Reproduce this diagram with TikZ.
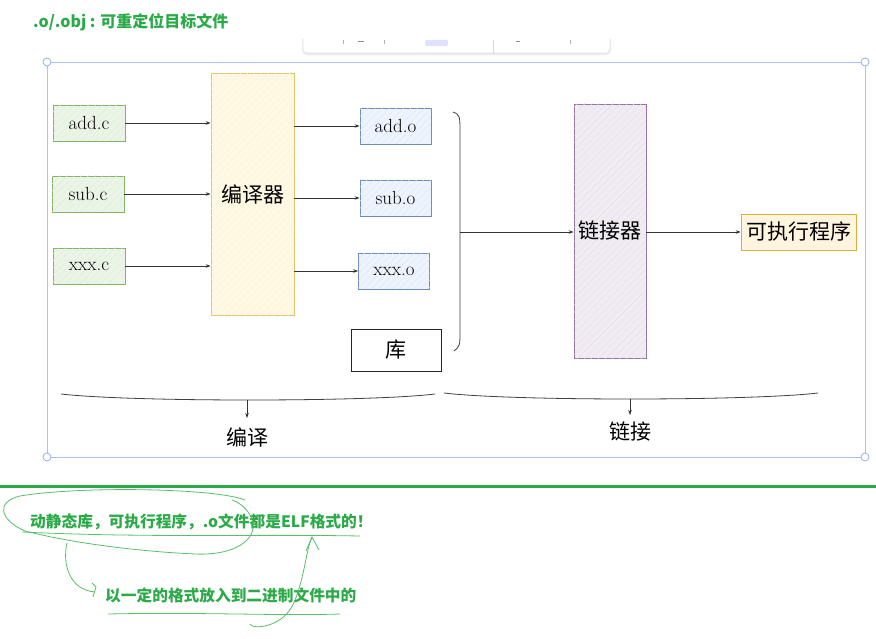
\documentclass[tikz,border=0pt]{standalone}
\usepackage{fontspec}
\newfontfamily\cjk{Noto Sans CJK SC}
\usetikzlibrary{arrows.meta,patterns.meta}
\definecolor{gbd}{HTML}{82B366}\definecolor{gfl}{HTML}{EAF4E7}
\definecolor{bbd}{HTML}{6C8EBF}\definecolor{bfl}{HTML}{EEF4FD}
\definecolor{ybd}{HTML}{E3C46A}\definecolor{yfl}{HTML}{FFF8E2}
\definecolor{pbd}{HTML}{9673A6}\definecolor{pfl}{HTML}{F1ECF4}
\definecolor{obd}{HTML}{E0AE3C}\definecolor{ofl}{HTML}{FFF5DE}
\definecolor{sel}{HTML}{A9C1F5}\definecolor{selc}{HTML}{7C9DEF}
\definecolor{note}{HTML}{2BAA48}\definecolor{pen}{HTML}{58C06A}
\tikzset{
  box/.style={draw, line width=0.7pt, inner sep=0pt, font=\fontsize{19}{22}\selectfont},
  cbox/.style={box, draw=gbd, fill=gfl, minimum width=72pt, minimum height=36pt,
    postaction={pattern={Lines[angle=45,distance=5pt,line width=0.4pt]}, pattern color=gbd!25}},
  obox/.style={box, draw=bbd, fill=bfl, minimum width=71pt, minimum height=36pt,
    postaction={pattern={Lines[angle=45,distance=5pt,line width=0.4pt]}, pattern color=bbd!22}},
  cjkl/.style={font=\cjk\fontsize{21}{25}\selectfont},
  arr/.style={draw=black!80, line width=0.7pt, -{Stealth[length=5pt,width=3.5pt]}},
  thin/.style={draw=black!75, line width=0.8pt},
  handp/.style={draw=pen, line width=0.8pt},
  corner/.style={circle, draw=selc, fill=white, line width=0.6pt, minimum size=8pt, inner sep=0pt},
  notetext/.style={font=\cjk\bfseries\fontsize{15.7}{18}\selectfont, text=note, inner sep=0pt, anchor=west}
}
\begin{document}
\begin{tikzpicture}[x=1pt,y=-1pt]
\useasboundingbox (0,0) rectangle (876,639);
\fill[white] (0,0) rectangle (876,639);
% title
\node[notetext, font=\cjk\bfseries\fontsize{16}{19}\selectfont] (title) at (33,22) {.o/.obj : 可重定位目标文件};
% toolbar popup
\begin{scope}
\clip (0,40) rectangle (876,60);
\fill[black, opacity=0.05, rounded corners=5pt] (302,30) rectangle (611,55.5);
\fill[black, opacity=0.05, rounded corners=5pt] (302.5,30) rectangle (610.5,54.5);
\draw[fill=white, draw=black!10, line width=0.6pt, rounded corners=4pt] (303,30) rectangle (610,53);
\end{scope}
\draw[black!15, line width=0.6pt] (493,40) -- (493,53);
\draw[black!30, line width=0.6pt] (343,40) -- (343,44) (384,40) -- (384,44) (570,40) -- (570,44);
\draw[black!45, line width=0.8pt] (358,41.5) -- (364,41.5) (516,41.5) -- (520,41.5);
\fill[blue!12, rounded corners=2pt] (425,40) rectangle (448,46);
% selection frame
\draw[sel, line width=0.9pt] (47,62) rectangle (865,457);
\node[corner] (c1) at (47,62) {};
\node[corner] (c2) at (865,62) {};
\node[corner] (c3) at (47,457) {};
\node[corner] (c4) at (865,457) {};
% compile stage
\node[cbox] (addc) at (89,123) {add.c};
\node[cbox] (subc) at (88,194) {sub.c};
\node[cbox] (xxxc) at (89,266) {xxx.c};
\node[box, draw=ybd, fill=yfl, minimum width=83pt, minimum height=242pt, cjkl,
  postaction={pattern={Lines[angle=45,distance=5pt,line width=0.4pt]}, pattern color=ybd!22}] (comp) at (252.5,194) {编译器};
\node[obox] (addo) at (395.5,126) {add.o};
\node[obox] (subo) at (395.5,198) {sub.o};
\node[obox] (xxxo) at (394,271) {xxx.o};
\node[box, draw=black!85, fill=white, minimum width=90pt, minimum height=42pt, cjkl] (lib) at (396,350) {库};
\draw[arr] (addc) -- (addc -| comp.west);
\draw[arr] (subc) -- (subc -| comp.west);
\draw[arr] (xxxc) -- (xxxc -| comp.west);
\draw[arr] (comp.east |- addo) -- (addo.west);
\draw[arr] (comp.east |- subo) -- (subo.west);
\draw[arr] (comp.east |- xxxo) -- (xxxo.west);
% bracket
\coordinate (ptop) at (453,112);
\coordinate (pbot) at (454,351);
\coordinate (paren) at (460,232);
\draw[thin] (ptop) .. controls (460,115) .. (460,135) -- (460,330) .. controls (460,346) .. (pbot);
% link stage
\node[box, draw=pbd, fill=pfl, minimum width=72pt, minimum height=254pt, cjkl,
  postaction={pattern={Lines[angle=45,distance=5pt,line width=0.4pt]}, pattern color=pbd!25}] (link) at (610,231) {链接器};
\node[box, draw=obd, fill=ofl, minimum width=115pt, minimum height=36pt, cjkl] (exe) at (798.5,232) {可执行程序};
\draw[arr] (paren) -- (paren -| link.west);
\draw[arr] (link.east |- exe) -- (exe.west);
% bottom braces
\coordinate (bl1) at (61,394); \coordinate (bl2) at (435,394);
\coordinate (br1) at (444,393); \coordinate (br2) at (818,393);
\draw[thin] (bl1) .. controls (130,402) and (370,402) .. (bl2);
\draw[thin] (br1) .. controls (510,401) and (750,401) .. (br2);
\coordinate (m1) at (247,400); \coordinate (m1e) at (247,418);
\coordinate (m2) at (630,399); \coordinate (m2e) at (630,415);
\draw[arr] (m1) -- (m1e);
\draw[arr] (m2) -- (m2e);
\node[cjkl, inner sep=0pt] (lab1) at (247,437) {编译};
\node[cjkl, inner sep=0pt] (lab2) at (630,432) {链接};
% green separator
\draw[note, line width=3pt] (0,486) -- (876,486);
% notes
\node[notetext] (n1) at (30,522) {动静态库，可执行程序，.o文件都是ELF格式的！};
\node[notetext] (n2) at (105,595) {以一定的格式放入到二进制文件中的};
% hand-drawn marks
\draw[handp] (245,500) .. controls (215,488) and (80,486) .. (20,496) .. controls (-5,502) and (0,520) .. (25,531) .. controls (80,545) and (150,552) .. (195,554) .. controls (240,556) and (262,535) .. (250,515) .. controls (246,508) and (240,503) .. (232,500);
\draw[handp] (22,532) .. controls (150,538) and (250,534) .. (360,536);
\coordinate (lstart) at (67,543);
\coordinate (ltip) at (95,592);
\draw[handp] (lstart) .. controls (62,565) and (70,590) .. (ltip);
\draw[handp] (92,583) -- (96,587) -- (93,597);
\draw[handp] (108,614) .. controls (200,612) and (280,616) .. (340,614);
\coordinate (rstart) at (250,624);
\coordinate (rtip) at (312,537);
\draw[handp] (rstart) .. controls (252,630) and (285,628) .. (295,600) .. controls (305,575) and (306,550) .. (rtip);
\draw[handp] (306,551) -- (312,537) -- (319,550);
\end{tikzpicture}
\end{document}
